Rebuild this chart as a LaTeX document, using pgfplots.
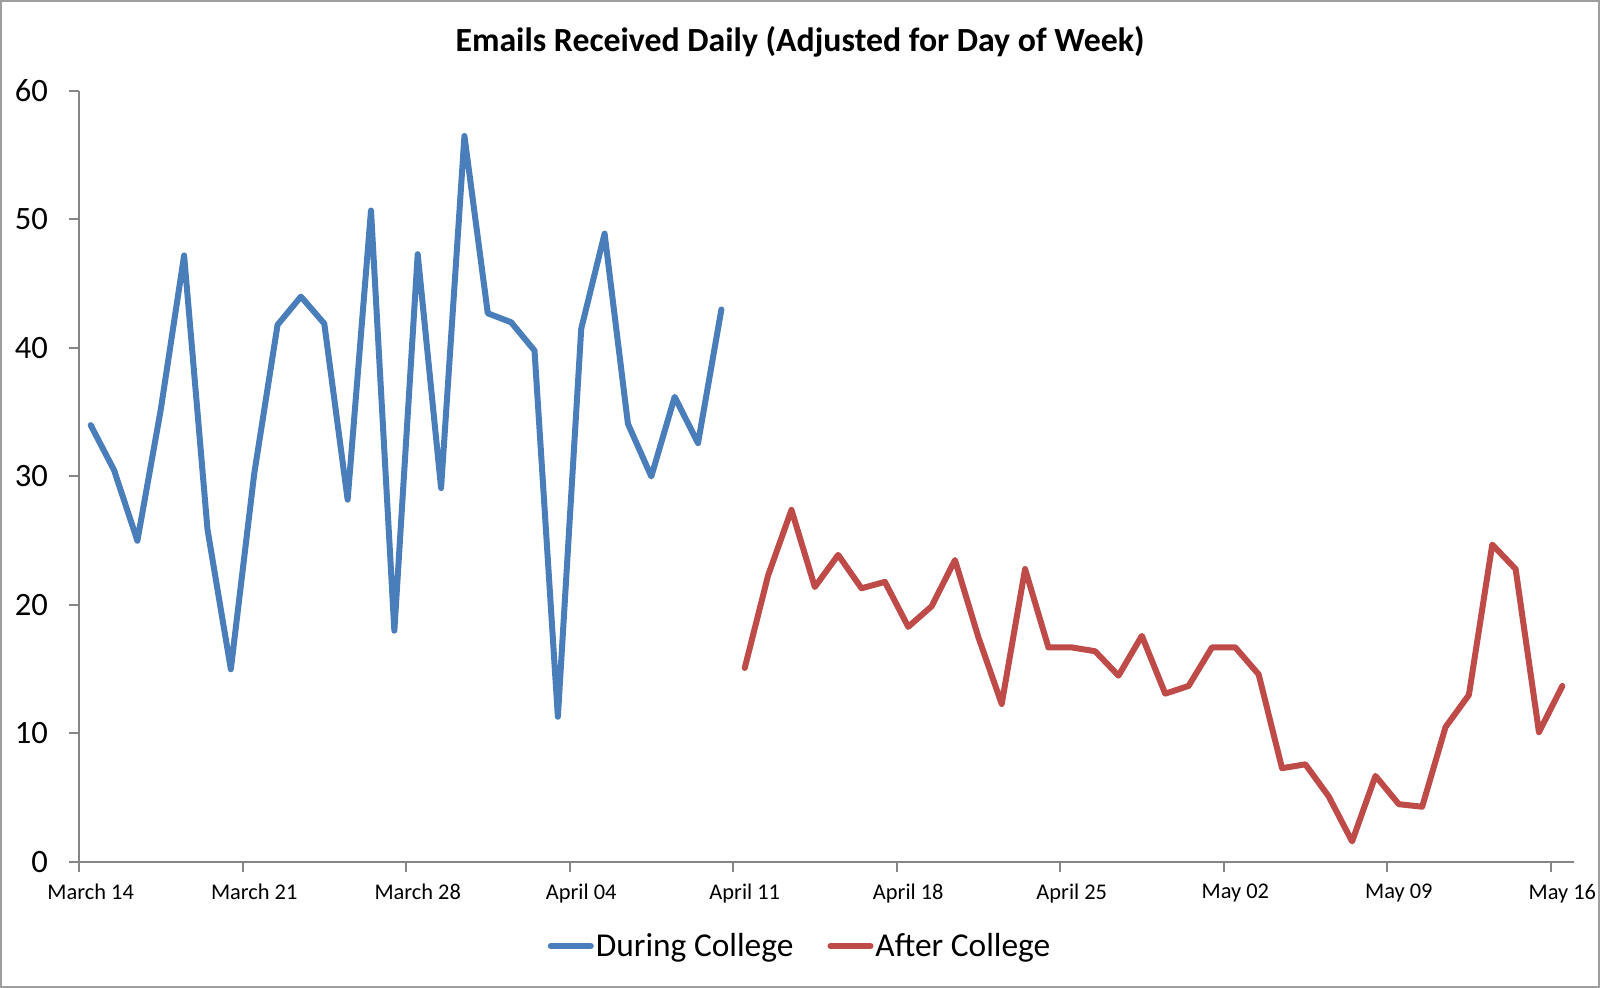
\documentclass[border=0pt]{standalone}
\usepackage{fontspec}
\setmainfont{Carlito}
\usepackage{pgfplots}
\pgfplotsset{compat=1.18}
\usepackage{pgfplotstable}
\definecolor{cblue}{HTML}{4A7EBB}
\definecolor{cred}{HTML}{BE4B48}
\definecolor{axgray}{HTML}{868686}

\pgfplotstableread{
x y
0 34.0
1 30.5
2 25.0
3 35.2
4 47.2
5 25.9
6 15.0
7 30.2
8 41.8
9 44.0
10 41.9
11 28.2
12 50.7
13 18.0
14 47.3
15 29.1
16 56.5
17 42.7
18 42.0
19 39.8
20 11.3
21 41.5
22 48.9
23 34.1
24 30.0
25 36.2
26 32.6
27 43.0
}\during

\pgfplotstableread{
x y
28 15.1
29 22.3
30 27.4
31 21.4
32 23.9
33 21.3
34 21.8
35 18.3
36 19.9
37 23.5
38 17.5
39 12.3
40 22.8
41 16.7
42 16.7
43 16.4
44 14.5
45 17.6
46 13.1
47 13.7
48 16.7
49 16.7
50 14.6
51 7.3
52 7.6
53 5.1
54 1.6
55 6.7
56 4.5
57 4.3
58 10.5
59 13.0
60 24.7
61 22.8
62 10.1
63 13.7
}\after

\begin{document}
\begin{tikzpicture}
\begin{axis}[
  at={(0,0)}, anchor=south west,
  scale only axis, width=747.5pt, height=385.5pt,
  xmin=-0.5, xmax=63.5, ymin=0, ymax=60,
  axis lines=left,
  axis line style={axgray, line width=1pt, -},
  tick style={axgray, line width=1pt},
  tick align=outside,
  major tick length=5pt,
  xtick={-0.5,6.5,13.5,20.5,27.5,34.5,41.5,48.5,55.5,62.5},
  xticklabels={March 14,March 21,March 28,April 04,April 11,April 18,April 25,May 02,May 09,May 16},
  xticklabel style={font=\fontsize{11.2}{13}\selectfont, xshift=5.84pt, yshift=-2.5pt},
  ytick={0,10,20,30,40,50,60},
  yticklabel style={font=\fontsize{16.3}{19}\selectfont, xshift=-7pt},
  /pgf/number format/assume math mode=true,
  title={Emails Received Daily (Adjusted for Day of Week)},
  title style={at={(0.4823,1)}, anchor=center, yshift=18.5pt, font=\fontsize{16.9}{20}\selectfont\bfseries},
  legend style={at={(0.4823,0)}, anchor=center, yshift=-42pt, draw=none, fill=none,
    font=\fontsize{16.7}{20}\selectfont, nodes={inner sep=1pt},
    /tikz/every even column/.append style={column sep=16pt}},
  legend columns=-1,
  legend image code/.code={\draw[#1, line width=3pt, line cap=round] (0pt,0pt) -- (20pt,0pt);},
]
\addplot[cblue, line width=3pt, line join=round, line cap=round] table[x=x,y=y] {\during};
\addlegendentry{During College}
\addplot[cred, line width=3pt, line join=round, line cap=round] table[x=x,y=y] {\after};
\addlegendentry{After College}
\end{axis}
\pgfresetboundingbox
\path[use as bounding box] (-39.5pt,-63pt) rectangle (760.5pt,431pt);
\draw[axgray!80, line width=1pt] (-39pt,-62.5pt) rectangle (760pt,430.5pt);
\end{tikzpicture}
\end{document}
